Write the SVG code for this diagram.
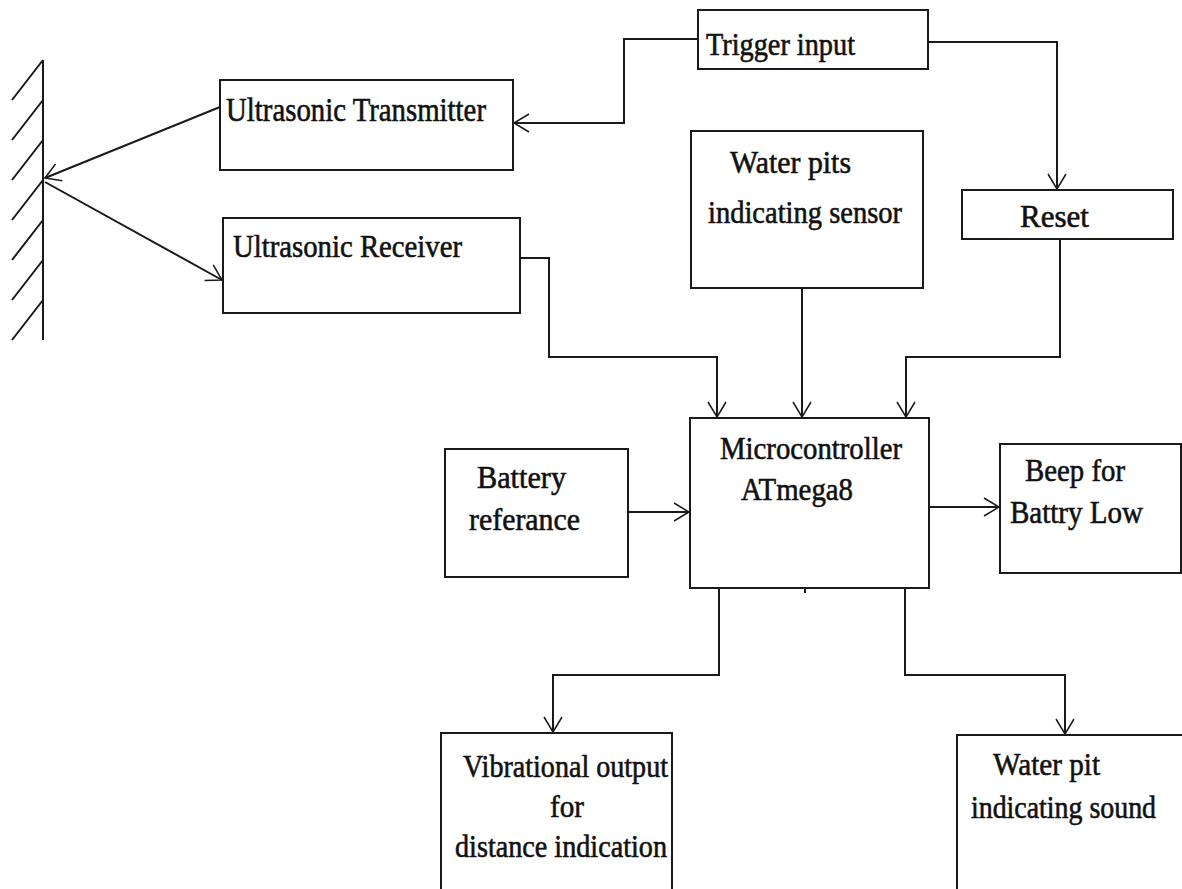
<svg xmlns="http://www.w3.org/2000/svg" width="1182" height="889" viewBox="0 0 1182 889">
<style>
.box{fill:#fff;stroke:#1a1a1a;stroke-width:2}
.t{font-family:"Liberation Serif","Times New Roman",serif;font-size:32px;fill:#111;stroke:#111;stroke-width:0.6}
.c{fill:none;stroke:#1a1a1a;stroke-width:2}
.w{fill:none;stroke:#1a1a1a;stroke-width:2}
</style>
<defs>
<marker id="ah" markerUnits="userSpaceOnUse" markerWidth="20" markerHeight="24" viewBox="-17 -12 20 24" refX="0" refY="0" orient="auto">
<path d="M-15,-9 L0,0 L-15,9" fill="none" stroke="#1a1a1a" stroke-width="1.5"/>
</marker>
</defs>
<rect width="1182" height="889" fill="#fff"/>
<g id="wall">
<path class="w" d="M43,60 V340 M43,60 L12,100 M43,100 L12,140 M43,140 L12,180 M43,180 L12,220 M43,220 L12,260 M43,260 L12,300 M43,300 L12,340"/>
</g>
<g id="connectors">
<path class="c" d="M698,39 H624 V123 H514" marker-end="url(#ah)"/>
<path class="c" d="M928,42 H1057 V189" marker-end="url(#ah)"/>
<path class="c" d="M220,107 L45,178" marker-end="url(#ah)"/>
<path class="c" d="M45,182 L222,280" marker-end="url(#ah)"/>
<path class="c" d="M520,258 H549 V357 H717 V417" marker-end="url(#ah)"/>
<path class="c" d="M802,288 V417" marker-end="url(#ah)"/>
<path class="c" d="M1060,239 V357 H906 V417" marker-end="url(#ah)"/>
<path class="c" d="M628,512 H689" marker-end="url(#ah)"/>
<path class="c" d="M929,507 H999" marker-end="url(#ah)"/>
<path class="c" d="M719,588 V675 H553 V732" marker-end="url(#ah)"/>
<path class="c" d="M905,588 V675 H1065 V734" marker-end="url(#ah)"/>
<path class="c" d="M805,588 V593"/>
</g>
<g id="trigger">
<rect class="box" x="698" y="10" width="230" height="59"/>
<text class="t" x="706" y="55" textLength="149" lengthAdjust="spacingAndGlyphs">Trigger input</text>
</g>
<g id="transmitter">
<rect class="box" x="220" y="80" width="293" height="90"/>
<text class="t" x="226" y="121" style="font-size:34px" textLength="260" lengthAdjust="spacingAndGlyphs">Ultrasonic Transmitter</text>
</g>
<g id="receiver">
<rect class="box" x="223" y="218" width="297" height="95"/>
<text class="t" x="233" y="257" textLength="229" lengthAdjust="spacingAndGlyphs">Ultrasonic Receiver</text>
</g>
<g id="waterpits">
<rect class="box" x="691" y="131" width="232" height="157"/>
<text class="t" x="730" y="173" textLength="121" lengthAdjust="spacingAndGlyphs">Water pits</text>
<text class="t" x="708" y="223" textLength="194" lengthAdjust="spacingAndGlyphs">indicating sensor</text>
</g>
<g id="reset">
<rect class="box" x="962" y="190" width="211" height="49"/>
<text class="t" x="1020" y="227" textLength="69" lengthAdjust="spacingAndGlyphs">Reset</text>
</g>
<g id="micro">
<rect class="box" x="690" y="418" width="239" height="170"/>
<text class="t" x="720" y="459" textLength="182" lengthAdjust="spacingAndGlyphs">Microcontroller</text>
<text class="t" x="741" y="500" textLength="112" lengthAdjust="spacingAndGlyphs">ATmega8</text>
</g>
<g id="battery">
<rect class="box" x="445" y="449" width="183" height="128"/>
<text class="t" x="477" y="488" textLength="89" lengthAdjust="spacingAndGlyphs">Battery</text>
<text class="t" x="469" y="530" textLength="111" lengthAdjust="spacingAndGlyphs">referance</text>
</g>
<g id="beep">
<rect class="box" x="1000" y="444" width="181" height="129"/>
<text class="t" x="1025" y="481" textLength="100" lengthAdjust="spacingAndGlyphs">Beep for</text>
<text class="t" x="1010" y="523" textLength="133" lengthAdjust="spacingAndGlyphs">Battry Low</text>
</g>
<g id="vibrational">
<rect class="box" x="441" y="733" width="231" height="170"/>
<text class="t" x="463" y="777" textLength="205" lengthAdjust="spacingAndGlyphs">Vibrational output</text>
<text class="t" x="550" y="817" textLength="34" lengthAdjust="spacingAndGlyphs">for</text>
<text class="t" x="455" y="857" textLength="212" lengthAdjust="spacingAndGlyphs">distance indication</text>
</g>
<g id="waterpitsound">
<rect class="box" x="957" y="735" width="240" height="170"/>
<text class="t" x="993" y="775" textLength="107" lengthAdjust="spacingAndGlyphs">Water pit</text>
<text class="t" x="971" y="818" textLength="185" lengthAdjust="spacingAndGlyphs">indicating sound</text>
</g>
</svg>
